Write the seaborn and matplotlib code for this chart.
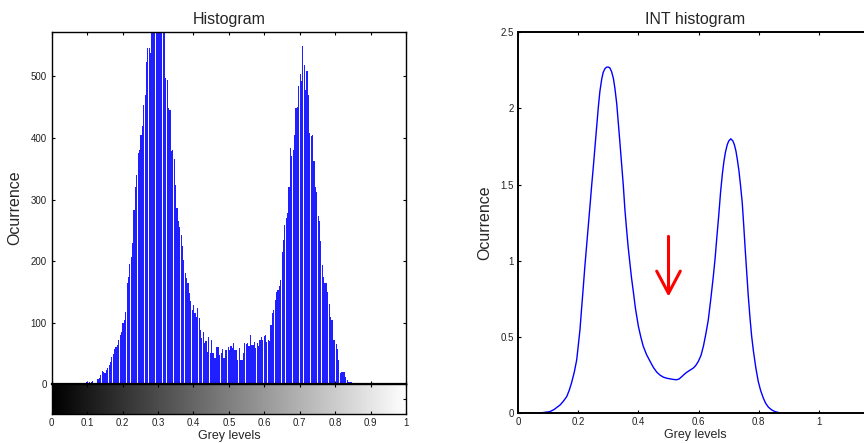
import numpy as np
import pandas as pd
import matplotlib
matplotlib.use("Agg")
import matplotlib.pyplot as plt
import seaborn as sns

# ---------------- data ----------------
# histogram counts for 256 grey-level bins (0..1)
counts = [
    0, 0, 0, 0, 0, 0, 0, 0, 0, 0,
    0, 0, 0, 0, 0, 0, 0, 1, 1, 0,
    1, 1, 2, 1, 2, 3, 2, 4, 3, 6,
    2, 2, 2, 8, 10, 15, 21, 20, 18, 23,
    26, 31, 37, 45, 50, 58, 60, 63, 72, 80,
    85, 99, 104, 118, 164, 175, 196, 207, 230, 283,
    320, 340, 375, 380, 405, 420, 454, 470, 524, 546,
    546, 538, 585, 600, 610, 595, 615, 620, 605, 590,
    580, 575, 497, 494, 448, 446, 379, 380, 365, 324,
    286, 265, 255, 242, 224, 202, 180, 172, 164, 148,
    135, 121, 129, 116, 110, 124, 108, 88, 75, 85,
    67, 70, 53, 77, 51, 72, 51, 43, 43, 61,
    61, 48, 51, 58, 43, 56, 56, 60, 56, 62,
    59, 67, 56, 56, 40, 59, 40, 40, 51, 67,
    66, 67, 62, 80, 64, 64, 69, 59, 67, 62,
    72, 77, 72, 78, 80, 69, 72, 70, 96, 116,
    121, 137, 150, 153, 160, 169, 215, 234, 259, 270,
    278, 321, 384, 370, 380, 405, 448, 451, 484, 503,
    492, 549, 519, 478, 508, 470, 408, 403, 405, 362,
    321, 313, 273, 265, 232, 194, 175, 164, 164, 150,
    131, 110, 104, 72, 72, 65, 58, 40, 18, 20,
    20, 20, 12, 7, 4, 3, 3, 2, 2, 1,
    2, 1, 1, 1, 0, 1, 1, 0, 0, 1,
    0, 0, 0, 0, 0, 0, 0, 0, 0, 0,
    0, 0, 0, 0, 0, 0, 0, 0, 0, 0,
    0, 0, 0, 0, 0, 0,
]

# INT histogram curve
int_x = [0.0, 0.06, 0.08, 0.106, 0.12, 0.14, 0.151, 0.162, 0.17, 0.178,
         0.187, 0.195, 0.2, 0.206, 0.211, 0.217, 0.222, 0.228, 0.234, 0.24,
         0.245, 0.25, 0.258, 0.267, 0.272, 0.278, 0.283, 0.289, 0.295, 0.3,
         0.305, 0.311, 0.317, 0.322, 0.328, 0.333, 0.338, 0.344, 0.35, 0.355,
         0.361, 0.366, 0.372, 0.377, 0.383, 0.39, 0.4, 0.408, 0.416, 0.427,
         0.439, 0.45, 0.461, 0.472, 0.483, 0.494, 0.505, 0.516, 0.527, 0.535,
         0.544, 0.552, 0.56, 0.57, 0.582, 0.59, 0.599, 0.608, 0.616, 0.624,
         0.632, 0.64, 0.649, 0.655, 0.66, 0.667, 0.673, 0.679, 0.684, 0.689,
         0.695, 0.7, 0.707, 0.714, 0.719, 0.724, 0.729, 0.734, 0.739, 0.745,
         0.75, 0.755, 0.76, 0.765, 0.771, 0.776, 0.782, 0.79, 0.798, 0.806,
         0.815, 0.823, 0.832, 0.843, 0.854, 0.87, 0.9, 1.0]
int_y = [0.0, 0.002, 0.004, 0.011, 0.025, 0.055, 0.08, 0.11, 0.15, 0.2,
         0.27, 0.35, 0.44, 0.55, 0.68, 0.83, 0.96, 1.1, 1.24, 1.38,
         1.5, 1.61, 1.8, 2.01, 2.11, 2.19, 2.235, 2.26, 2.27, 2.27,
         2.265, 2.24, 2.195, 2.13, 2.03, 1.91, 1.79, 1.64, 1.49, 1.34,
         1.2, 1.09, 0.98, 0.89, 0.8, 0.69, 0.57, 0.5, 0.44, 0.385,
         0.34, 0.3, 0.27, 0.25, 0.237, 0.23, 0.226, 0.222, 0.22, 0.225,
         0.24, 0.255, 0.268, 0.281, 0.296, 0.312, 0.34, 0.38, 0.44, 0.52,
         0.61, 0.74, 0.9, 1.02, 1.14, 1.3, 1.45, 1.57, 1.65, 1.71,
         1.76, 1.785, 1.8, 1.785, 1.76, 1.72, 1.66, 1.59, 1.5, 1.38,
         1.23, 1.07, 0.92, 0.77, 0.62, 0.51, 0.41, 0.3, 0.21, 0.15,
         0.1, 0.065, 0.04, 0.022, 0.011, 0.003, 0.0, 0.0]

hist_yticks = [0, 100, 200, 300, 400, 500]
grey_ticks = [0, 0.1, 0.2, 0.3, 0.4, 0.5, 0.6, 0.7, 0.8, 0.9, 1]
grey_ticklabels = ["0", "0.1", "0.2", "0.3", "0.4", "0.5", "0.6", "0.7", "0.8", "0.9", "1"]
int_xticks = [0, 0.2, 0.4, 0.6, 0.8, 1.0]
int_xticklabels = ["0", "0.2", "0.4", "0.6", "0.8", "1"]
int_yticks = [0, 0.5, 1, 1.5, 2, 2.5]
int_yticklabels = ["0", "0.5", "1", "1.5", "2", "2.5"]

# ---------------- style ----------------
sns.set_style("white")
plt.rcParams["font.family"] = ["Liberation Sans", "DejaVu Sans"]
plt.rcParams["axes.linewidth"] = 1.0
plt.rcParams["axes.edgecolor"] = "black"

W, H = 864, 443
fig = plt.figure(figsize=(W / 100, H / 100), dpi=100)


def fx(px):
    return px / W


def fy(px):
    return 1 - px / H


tick_kw = dict(direction="in", length=2.2, width=0.8, labelsize=7, colors="black",
               labelcolor="#222222")

# ---------------- left: histogram ----------------
L, R = 51.7, 406.0
ax1 = fig.add_axes([fx(L), fy(384.3), fx(R - L), (384.3 - 32) / H])
n = len(counts)
centers = (np.arange(n) + 0.5) / n
df_hist = pd.DataFrame({"grey": centers, "count": counts})
sns.histplot(data=df_hist, x="grey", weights="count", bins=n, binrange=(0, 1),
             color="#1f1fff", alpha=1.0, linewidth=0, shrink=0.85, ax=ax1)
ax1.set_xlim(0, 1)
ax1.set_ylim(0, 572)
ax1.set_yticks(hist_yticks)
ax1.set_yticklabels([str(v) for v in hist_yticks])
ax1.set_xticks(grey_ticks)
ax1.tick_params(axis="both", which="both", top=True, bottom=True, left=True, right=True,
                labelbottom=False, **tick_kw)
ax1.set_xlabel("")
ax1.set_ylabel("Ocurrence", fontsize=11.5, labelpad=6)
ax1.set_title("Histogram", fontsize=11.5, pad=6)
ax1.spines["bottom"].set_linewidth(1.6)
for s in ax1.spines.values():
    s.set_color("black")

# grey-level colour bar
axc = fig.add_axes([fx(L), fy(414.0), fx(R - L), (414.0 - 384.3) / H])
grad = np.linspace(0, 1, 256).reshape(1, -1)
axc.imshow(grad, cmap="gray", aspect="auto", extent=[0, 1, 0, 1], vmin=0, vmax=1)
axc.set_xlim(0, 1)
axc.set_ylim(0, 1)
axc.set_xticks(grey_ticks)
axc.set_xticklabels(grey_ticklabels)
axc.set_yticks([0.5])
axc.tick_params(axis="x", top=True, bottom=True, pad=3, **tick_kw)
axc.tick_params(axis="y", left=False, right=True, labelleft=False, labelright=False,
                **tick_kw)
axc.set_xlabel("Grey levels", fontsize=9, labelpad=1)
for s in axc.spines.values():
    s.set_color("black")

# ---------------- right: INT histogram ----------------
L2 = 518.0
ax2 = fig.add_axes([fx(L2), fy(413.3), fx(354.0), (413.3 - 32) / H])
df_int = pd.DataFrame({"grey": int_x, "occ": int_y})
sns.lineplot(data=df_int, x="grey", y="occ", color="#0000ff", linewidth=1.0, ax=ax2)
ax2.set_xlim(0, 354.0 / 301.0)
ax2.set_ylim(0, 2.5)
ax2.set_xticks(int_xticks)
ax2.set_xticklabels(int_xticklabels)
ax2.set_yticks(int_yticks)
ax2.set_yticklabels(int_yticklabels)
ax2.tick_params(axis="both", which="both", top=True, bottom=True, left=True, right=True,
                pad=3, **tick_kw)
ax2.set_xlabel("Grey levels", fontsize=9, labelpad=1)
ax2.set_ylabel("Ocurrence", fontsize=11.5, labelpad=6)
ax2.set_title("INT histogram", fontsize=11.5, pad=6)
for s in ax2.spines.values():
    s.set_color("black")
    s.set_linewidth(1.4)

ax2.annotate("", xy=(0.5, 0.765), xytext=(0.5, 1.16),
             arrowprops=dict(arrowstyle="->,head_length=1.6,head_width=0.85",
                             color="red", lw=2.2, shrinkA=0, shrinkB=0))

fig.savefig("out.png", dpi=100)
